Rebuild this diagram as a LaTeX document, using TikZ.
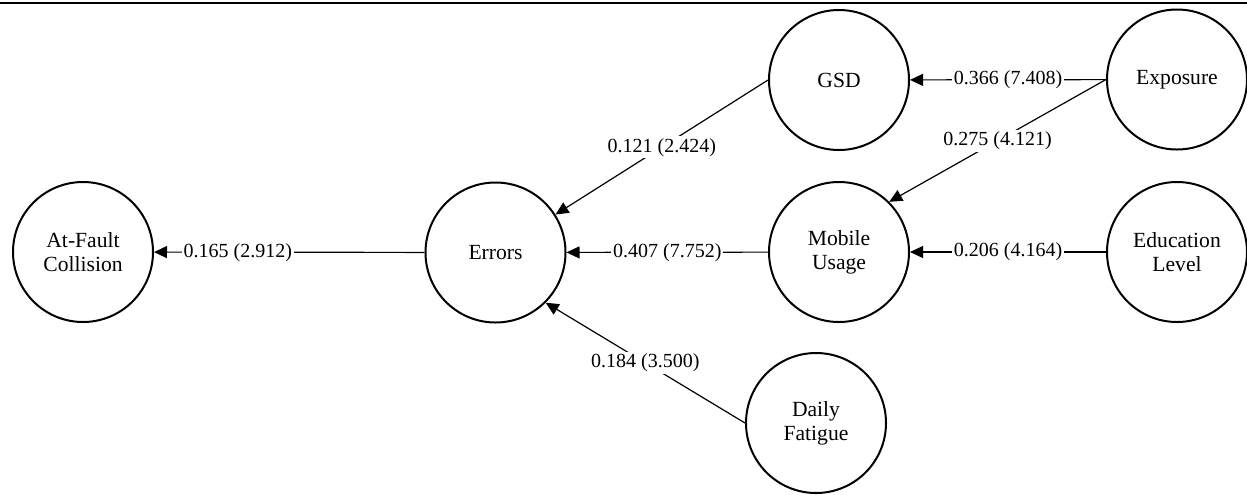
\documentclass[tikz,border=0pt]{standalone}
\usepackage{fontspec}
\setmainfont{Liberation Serif}
\usetikzlibrary{arrows.meta}
\begin{document}
\begin{tikzpicture}[x=0.5pt,y=-0.5pt,
  var/.style={circle,draw,line width=1pt,minimum size=70pt,inner sep=0pt,align=center,font=\fontsize{10.8pt}{12pt}\selectfont},
  path/.style={line width=0.6pt,-{Triangle[length=6.5pt,width=6pt]}},
  lab/.style={fill=white,inner sep=1pt,font=\fontsize{10pt}{12pt}\selectfont}]
\useasboundingbox (0,0) rectangle (1247,494);
\draw[line width=1.1pt] (0,3) -- (1247,3);
\node[var] (afc) at (83,252) {At-Fault\\Collision};
\node[var] (err) at (495.5,252.5) {Errors};
\node[var] (gsd) at (839,80) {GSD};
\node[var] (mob) at (839,252) {Mobile\\Usage};
\node[var] (expo) at (1177,79.5) {Exposure};
\node[var] (edu) at (1177,252) {Education\\Level};
\node[var] (fat) at (816,423) {Daily\\Fatigue};
\draw[path] (err) -- node[lab,pos=0.69] {0.165 (2.912)} (afc);
\draw[path] (gsd.west) -- node[lab] {0.121 (2.424)} (err);
\draw[path] (mob) -- node[lab] {0.407 (7.752)} (err);
\draw[path] (fat.west) -- node[lab] {0.184 (3.500)} (err.south east);
\draw[path] (expo) -- node[lab] {0.366 (7.408)} (gsd);
\draw[path] (expo.west) -- node[lab] {0.275 (4.121)} (mob.north east);
\draw[path] (edu) -- node[lab] {0.206 (4.164)} (mob);
\end{tikzpicture}
\end{document}
